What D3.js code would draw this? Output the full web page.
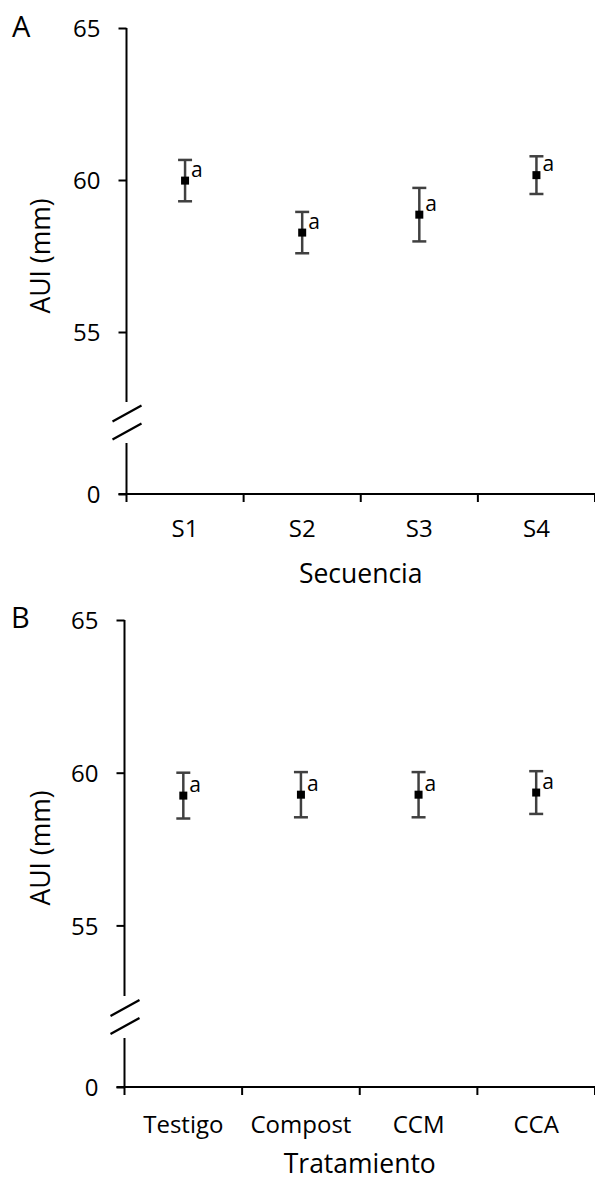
<!DOCTYPE html>
<html>
<head>
<meta charset="utf-8">
<script src="https://cdn.jsdelivr.net/npm/d3@7"></script>
<style>
  html, body { margin: 0; padding: 0; background: #fff; }
  svg { display: block; }
  text { font-family: "Open Sans", "Noto Sans", sans-serif; fill: #000; }
</style>
</head>
<body>
<svg id="chart" width="595" height="1180"></svg>
<script>
// ---- Data ----
const catsA = ["S1", "S2", "S3", "S4"];
const meansA = [59.98, 58.27, 58.86, 60.16];
const errA = [0.68, 0.68, 0.88, 0.62];
const lettersA = ["a", "a", "a", "a"];

const catsB = ["Testigo", "Compost", "CCM", "CCA"];
const meansB = [59.25, 59.28, 59.28, 59.35];
const errB = [0.75, 0.74, 0.74, 0.70];
const lettersB = ["a", "a", "a", "a"];

const yTicks = [0, 55, 60, 65];
const yTitle = "AUI (mm)";
const xTitleA = "Secuencia";
const xTitleB = "Tratamiento";

// ---- Drawing ----
const svg = d3.select("#chart");
svg.append("rect").attr("width", 595).attr("height", 1180).attr("fill", "#fff");

function panel(opts) {
  const { label, cats, means, errs, letters, xTitle,
          axisX, right, y65, y55, yZero, breakTop, breakBottom,
          labelX, labelY, titleX, titleY, tickBase, xTitleBase } = opts;
  const g = svg.append("g");

  const x = d3.scaleBand().domain(cats).range([axisX, right]).paddingInner(0).paddingOuter(0);
  const y = d3.scaleLinear().domain([0, 55, 65]).range([yZero, y55, y65]);

  // Y axis ticks & labels
  const yAxis = d3.axisLeft(y).tickValues(yTicks).tickSize(8).tickSizeOuter(0).tickPadding(18)
    .tickFormat(d3.format("d"));
  const ya = g.append("g").attr("transform", `translate(${axisX},0)`).call(yAxis);
  ya.select(".domain").remove();
  ya.selectAll(".tick line").attr("stroke", "#000").attr("stroke-width", 2);
  ya.selectAll(".tick text").attr("font-size", 24).attr("font-family", "Open Sans").attr("fill", "#000")
    .attr("dy", "0.36em");

  // Y axis line with break
  g.append("line").attr("x1", axisX).attr("x2", axisX).attr("y1", y65).attr("y2", breakTop)
    .attr("stroke", "#000").attr("stroke-width", 2);
  g.append("line").attr("x1", axisX).attr("x2", axisX).attr("y1", breakBottom).attr("y2", yZero + 8)
    .attr("stroke", "#000").attr("stroke-width", 2);
  // break slashes
  const mid = (breakTop + breakBottom) / 2;
  [-1, 1].forEach(s => {
    const off = s * 9;
    g.append("line")
      .attr("x1", axisX - 14).attr("y1", mid + off + 8)
      .attr("x2", axisX + 15).attr("y2", mid + off - 8)
      .attr("stroke", "#000").attr("stroke-width", 2.2);
  });

  // X axis line
  g.append("line").attr("x1", axisX - 8).attr("x2", right).attr("y1", yZero).attr("y2", yZero)
    .attr("stroke", "#000").attr("stroke-width", 2);
  // X ticks at band boundaries
  const edges = cats.map(c => x(c)).concat([right]);
  g.selectAll(".xt").data(edges.slice(1)).enter().append("line")
    .attr("x1", d => d).attr("x2", d => d).attr("y1", yZero).attr("y2", yZero + 8)
    .attr("stroke", "#000").attr("stroke-width", 2);
  // X tick labels
  g.selectAll(".xl").data(cats).enter().append("text")
    .attr("x", d => x(d) + x.bandwidth() / 2).attr("y", tickBase)
    .attr("text-anchor", "middle").attr("font-size", 24).text(d => d);

  // Axis titles
  g.append("text").attr("x", (axisX + right) / 2).attr("y", xTitleBase)
    .attr("text-anchor", "middle").attr("font-size", 26.5).text(xTitle);
  g.append("text").attr("transform", `translate(${titleX},${titleY}) rotate(-90)`)
    .attr("text-anchor", "middle").attr("font-size", 26.5).text(yTitle);

  // Panel label
  g.append("text").attr("x", labelX).attr("y", labelY).attr("font-size", 29).text(label);

  // Error bars & markers
  const data = cats.map((c, i) => ({ c, m: means[i], e: errs[i], l: letters[i] }));
  const cx = d => x(d.c) + x.bandwidth() / 2;
  const pts = g.selectAll(".pt").data(data).enter().append("g");
  pts.append("line").attr("x1", cx).attr("x2", cx)
    .attr("y1", d => y(d.m + d.e)).attr("y2", d => y(d.m - d.e))
    .attr("stroke", "#404040").attr("stroke-width", 2.5);
  pts.append("line").attr("x1", d => cx(d) - 7).attr("x2", d => cx(d) + 7)
    .attr("y1", d => y(d.m + d.e)).attr("y2", d => y(d.m + d.e))
    .attr("stroke", "#404040").attr("stroke-width", 2.5);
  pts.append("line").attr("x1", d => cx(d) - 7).attr("x2", d => cx(d) + 7)
    .attr("y1", d => y(d.m - d.e)).attr("y2", d => y(d.m - d.e))
    .attr("stroke", "#404040").attr("stroke-width", 2.5);
  pts.append("rect").attr("x", d => cx(d) - 4).attr("y", d => y(d.m) - 4)
    .attr("width", 8).attr("height", 8).attr("fill", "#000");
  pts.append("text").attr("x", d => cx(d) + 6).attr("y", d => y(d.m) - 4)
    .attr("font-size", 21).text(d => d.l);
}

panel({
  label: "A", cats: catsA, means: meansA, errs: errA, letters: lettersA, xTitle: xTitleA,
  axisX: 126.5, right: 595, y65: 28, y55: 332, yZero: 494, breakTop: 402, breakBottom: 443,
  labelX: 12, labelY: 37, titleX: 50, titleY: 256, tickBase: 537, xTitleBase: 583
});

panel({
  label: "B", cats: catsB, means: meansB, errs: errB, letters: lettersB, xTitle: xTitleB,
  axisX: 124.5, right: 595, y65: 620, y55: 925.4, yZero: 1087, breakTop: 996, breakBottom: 1038,
  labelX: 11, labelY: 628, titleX: 50, titleY: 848, tickBase: 1133, xTitleBase: 1173
});
</script>
</body>
</html>
